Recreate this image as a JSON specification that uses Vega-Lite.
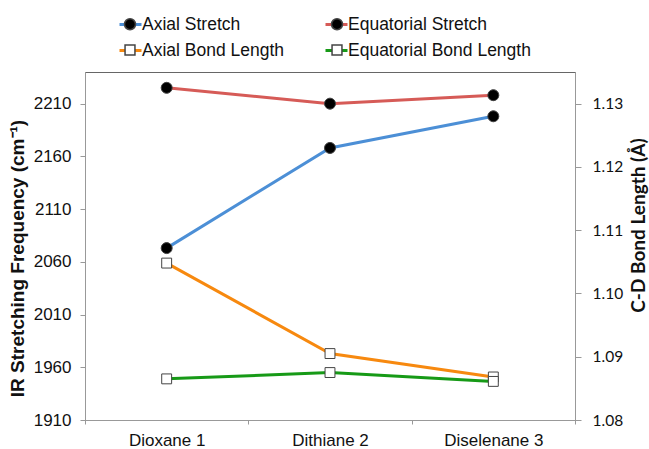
{
  "$schema": "https://vega.github.io/schema/vega-lite/v6.json",
  "width": 490,
  "height": 348,
  "autosize": {"type": "none"},
  "padding": {"left": 85, "top": 72, "right": 74, "bottom": 29},
  "background": "white",
  "config": {
    "view": {"stroke": "#666", "strokeWidth": 1},
    "font": "Liberation Sans",
    "axis": {"labelFont": "Liberation Sans", "labelFontSize": 17, "labelColor": "#111", "domainColor": "#999", "tickColor": "#999", "grid": false, "titleColor": "#111"}
  },
  "data": {
    "values": [
      {"compound": "Dioxane 1", "series": "Axial Stretch", "value": 2073},
      {"compound": "Dithiane 2", "series": "Axial Stretch", "value": 2168},
      {"compound": "Diselenane 3", "series": "Axial Stretch", "value": 2198},
      {"compound": "Dioxane 1", "series": "Equatorial Stretch", "value": 2225},
      {"compound": "Dithiane 2", "series": "Equatorial Stretch", "value": 2210},
      {"compound": "Diselenane 3", "series": "Equatorial Stretch", "value": 2218},
      {"compound": "Dioxane 1", "series": "Axial Bond Length", "value": 1.1048},
      {"compound": "Dithiane 2", "series": "Axial Bond Length", "value": 1.0905},
      {"compound": "Diselenane 3", "series": "Axial Bond Length", "value": 1.0868},
      {"compound": "Dioxane 1", "series": "Equatorial Bond Length", "value": 1.0865},
      {"compound": "Dithiane 2", "series": "Equatorial Bond Length", "value": 1.0875},
      {"compound": "Diselenane 3", "series": "Equatorial Bond Length", "value": 1.0861}
    ]
  },
  "encoding": {
    "x": {
      "field": "compound",
      "type": "nominal",
      "scale": {"domain": ["Dioxane 1", "Dithiane 2", "Diselenane 3"], "paddingInner": 0, "paddingOuter": 0},
      "axis": {"title": null, "labelAngle": 0, "tickBand": "extent", "tickSize": 4, "labelPadding": 8}
    }
  },
  "layer": [
    {
      "transform": [{"filter": {"field": "series", "oneOf": ["Axial Stretch", "Equatorial Stretch"]}}],
      "encoding": {
        "y": {
          "field": "value",
          "type": "quantitative",
          "scale": {"domain": [1910, 2240], "nice": false, "zero": false},
          "axis": {
            "title": "IR Stretching Frequency (cm⁻¹)",
            "values": [1910, 1960, 2010, 2060, 2110, 2160, 2210],
            "format": "d",
            "titleFont": "Liberation Sans",
            "titleFontSize": 19,
            "titleFontWeight": "bold",
            "titleY": 186,
            "titlePadding": 6,
            "tickSize": 5,
            "labelPadding": 9
          }
        }
      },
      "layer": [
        {
          "mark": {"type": "line", "strokeWidth": 3},
          "encoding": {
            "stroke": {
              "field": "series",
              "type": "nominal",
              "sort": ["Axial Stretch", "Equatorial Stretch", "Axial Bond Length", "Equatorial Bond Length"],
              "scale": {"range": ["#4C8FD6", "#D65B57", "#F7890F", "#179A17"]},
              "legend": {"title": null, "orient": "none", "direction": "horizontal", "legendX": 33, "legendY": -60, "columns": 2, "columnPadding": 34, "rowPadding": 5, "symbolType": "stroke", "symbolSize": 484, "symbolStrokeWidth": 3, "labelFontSize": 17.5, "labelFont": "Liberation Sans", "labelColor": "#111", "labelOffset": -1, "labelLimit": 400, "padding": 0}
            }
          }
        },
        {
          "mark": {"type": "point", "filled": true, "size": 484, "stroke": "#444", "strokeWidth": 1, "opacity": 1},
          "encoding": {
            "shape": {
              "field": "series",
              "type": "nominal",
              "scale": {"domain": ["Axial Stretch", "Equatorial Stretch", "Axial Bond Length", "Equatorial Bond Length"], "range": ["M0.5,0A0.5,0.5 0 1,1 -0.5,0A0.5,0.5 0 1,1 0.5,0Z", "M0.5,0A0.5,0.5 0 1,1 -0.5,0A0.5,0.5 0 1,1 0.5,0Z", "M-0.45,-0.45H0.45V0.45H-0.45Z", "M-0.45,-0.45H0.45V0.45H-0.45Z"]},
              "legend": {"title": null, "orient": "none", "direction": "horizontal", "legendX": 33, "legendY": -60, "columns": 2, "columnPadding": 184, "rowPadding": 5, "symbolSize": 484, "labelFontSize": 17.5, "labelExpr": "''", "labelOffset": -1, "labelLimit": 400, "padding": 0, "encode": {"symbols": {"stroke": {"value": "#444"}, "strokeWidth": {"value": 1}, "strokeOpacity": {"value": 1}}}}
            },
            "fill": {
              "field": "series",
              "type": "nominal",
              "scale": {"domain": ["Axial Stretch", "Equatorial Stretch", "Axial Bond Length", "Equatorial Bond Length"], "range": ["#000000", "#000000", "#ffffff", "#ffffff"]},
              "legend": {"title": null, "orient": "none", "direction": "horizontal", "legendX": 33, "legendY": -60, "columns": 2, "columnPadding": 184, "rowPadding": 5, "symbolSize": 484, "labelFontSize": 17.5, "labelExpr": "''", "labelOffset": -1, "labelLimit": 400, "padding": 0, "encode": {"symbols": {"stroke": {"value": "#444"}, "strokeWidth": {"value": 1}, "strokeOpacity": {"value": 1}}}}
            }
          }
        }
      ]
    },
    {
      "transform": [{"filter": {"field": "series", "oneOf": ["Axial Bond Length", "Equatorial Bond Length"]}}],
      "encoding": {
        "y": {
          "field": "value",
          "type": "quantitative",
          "scale": {"domain": [1.08, 1.135], "nice": false, "zero": false},
          "axis": {
            "orient": "right",
            "title": "C-D Bond Length (Å)",
            "values": [1.08, 1.09, 1.1, 1.11, 1.12, 1.13],
            "format": ".2f",
            "labelFont": "Lato",
            "labelFontSize": 15.5,
            "titleFont": "Lato",
            "titleFontSize": 19,
            "titleFontWeight": "bold",
            "titleAngle": 270,
            "titleBaseline": "top",
            "titleY": 153,
            "titlePadding": 7,
            "tickSize": 6,
            "labelPadding": 11
          }
        }
      },
      "layer": [
        {
          "mark": {"type": "line", "strokeWidth": 3},
          "encoding": {
            "stroke": {
              "field": "series",
              "type": "nominal",
              "sort": ["Axial Stretch", "Equatorial Stretch", "Axial Bond Length", "Equatorial Bond Length"],
              "scale": {"range": ["#4C8FD6", "#D65B57", "#F7890F", "#179A17"]},
              "legend": {"title": null, "orient": "none", "direction": "horizontal", "legendX": 33, "legendY": -60, "columns": 2, "columnPadding": 34, "rowPadding": 5, "symbolType": "stroke", "symbolSize": 484, "symbolStrokeWidth": 3, "labelFontSize": 17.5, "labelFont": "Liberation Sans", "labelColor": "#111", "labelOffset": -1, "labelLimit": 400, "padding": 0}
            }
          }
        },
        {
          "mark": {"type": "point", "filled": true, "size": 484, "stroke": "#444", "strokeWidth": 1, "opacity": 1},
          "encoding": {
            "shape": {
              "field": "series",
              "type": "nominal",
              "scale": {"domain": ["Axial Stretch", "Equatorial Stretch", "Axial Bond Length", "Equatorial Bond Length"], "range": ["M0.5,0A0.5,0.5 0 1,1 -0.5,0A0.5,0.5 0 1,1 0.5,0Z", "M0.5,0A0.5,0.5 0 1,1 -0.5,0A0.5,0.5 0 1,1 0.5,0Z", "M-0.45,-0.45H0.45V0.45H-0.45Z", "M-0.45,-0.45H0.45V0.45H-0.45Z"]},
              "legend": {"title": null, "orient": "none", "direction": "horizontal", "legendX": 33, "legendY": -60, "columns": 2, "columnPadding": 184, "rowPadding": 5, "symbolSize": 484, "labelFontSize": 17.5, "labelExpr": "''", "labelOffset": -1, "labelLimit": 400, "padding": 0, "encode": {"symbols": {"stroke": {"value": "#444"}, "strokeWidth": {"value": 1}, "strokeOpacity": {"value": 1}}}}
            },
            "fill": {
              "field": "series",
              "type": "nominal",
              "scale": {"domain": ["Axial Stretch", "Equatorial Stretch", "Axial Bond Length", "Equatorial Bond Length"], "range": ["#000000", "#000000", "#ffffff", "#ffffff"]},
              "legend": {"title": null, "orient": "none", "direction": "horizontal", "legendX": 33, "legendY": -60, "columns": 2, "columnPadding": 184, "rowPadding": 5, "symbolSize": 484, "labelFontSize": 17.5, "labelExpr": "''", "labelOffset": -1, "labelLimit": 400, "padding": 0, "encode": {"symbols": {"stroke": {"value": "#444"}, "strokeWidth": {"value": 1}, "strokeOpacity": {"value": 1}}}}
            }
          }
        }
      ]
    }
  ],
  "resolve": {"scale": {"y": "independent"}}
}
